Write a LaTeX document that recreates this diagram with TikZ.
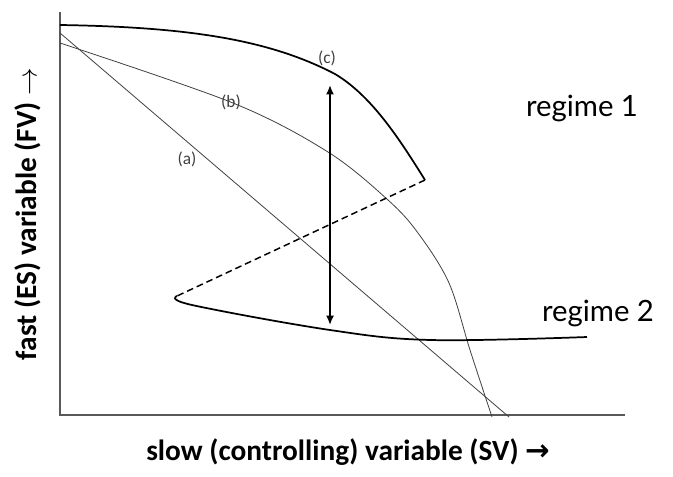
\documentclass[tikz,border=0pt]{standalone}
\usepackage{fontspec}
\setmainfont{Carlito}
\newfontfamily\regimefont{Lato}
\newfontfamily\arrowfont{DejaVu Sans}
\usetikzlibrary{arrows.meta}
\begin{document}
\begin{tikzpicture}[x=0.75pt, y=-0.75pt, every node/.style={font=\small}]
  \useasboundingbox (0,0) rectangle (673,476);
  % axes
  \draw[black!65, line width=0.8pt] (60,12) -- (60,415) -- (625,415);
  % curve (a)
  \draw[black!75, line width=0.6pt] (60,33) -- (509,417);
  % curve (b)
  \draw[black!75, line width=0.6pt] plot[smooth, tension=0.55] coordinates {(60,43) (233,103) (328,152) (388,200) (418,233) (449,283) (470,350) (492,417)};
  % curve (c) with the dashed middle branch
  \draw[line width=1.3pt] (60,25) .. controls (190,27) and (270,40) .. (335,74)
    .. controls (372,96) and (400,140) .. (425,180);
  \draw[line width=1.1pt, dash pattern=on 5pt off 3pt] (425,180) -- (177,296);
  \draw[line width=1.3pt] plot[smooth, tension=0.6] coordinates {(177,296) (192,305) (330,330) (431,340) (587,337)};
  % jump between the two regimes
  \coordinate (top) at (330,85);
  \coordinate (bot) at (330,325);
  \draw[line width=1.3pt, {Latex[length=7pt,width=6pt]}-{Latex[length=7pt,width=6pt]}] (top) -- (bot);
  % labels
  \node[text=black!75, font=\fontsize{13}{15}\selectfont] (lc) at (327,58) {(c)};
  \node[text=black!75, font=\fontsize{13}{15}\selectfont] (lb) at (231,102) {(b)};
  \node[text=black!75, font=\fontsize{13}{15}\selectfont] (la) at (187,159) {(a)};
  \node[font=\regimefont\fontsize{22}{26}\selectfont] (r1) at (582,108) {regime 1};
  \node[font=\regimefont\fontsize{22}{26}\selectfont] (r2) at (598,313) {regime 2};
  \node[font=\bfseries\fontsize{22}{26}\selectfont] (xl) at (348,452) {slow (controlling) variable (SV) {\arrowfont\bfseries →}};
  \node[font=\bfseries\fontsize{22}{26}\selectfont, rotate=90] (yl) at (28,214) {fast (ES) variable (FV) $\rightarrow$};
\end{tikzpicture}
\end{document}
